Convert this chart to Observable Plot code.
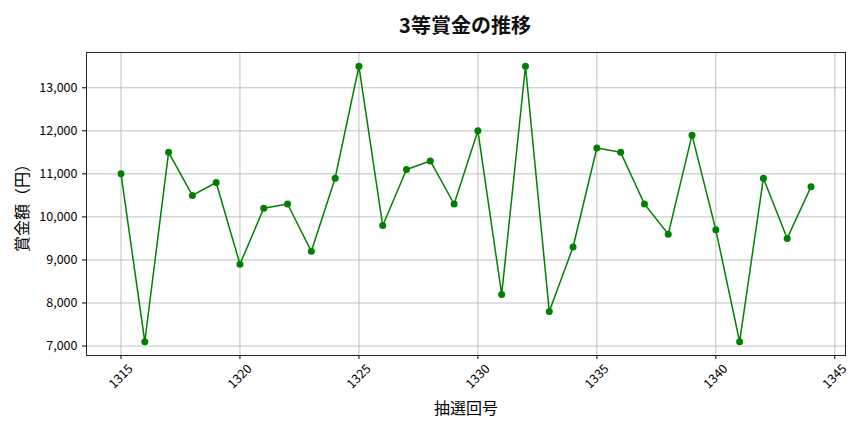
<!DOCTYPE html>
<html>
<head>
<meta charset="utf-8">
<script src="https://cdn.jsdelivr.net/npm/d3@7"></script>
<script src="https://cdn.jsdelivr.net/npm/@observablehq/plot@0.6"></script>
<style>
  body { margin: 0; background: #fff; font-family: "Noto Sans CJK JP", "Noto Sans", sans-serif; }
  #wrap { width: 864px; height: 432px; position: relative; }
  #title { height: 44px; line-height: 50px; text-align: center; font-size: 20px; font-weight: bold; color: #111; padding-left: 66px; }
</style>
</head>
<body>
<div id="wrap">
  <div id="title">3等賞金の推移</div>
  <div id="chart"></div>
</div>
<script>
const draws = [1315,1316,1317,1318,1319,1320,1321,1322,1323,1324,1325,1326,1327,1328,1329,1330,1331,1332,1333,1334,1335,1336,1337,1338,1339,1340,1341,1342,1343,1344];
const prizes = [11000,7100,11500,10500,10800,8900,10200,10300,9200,10900,13500,9800,11100,11300,10300,12000,8200,13500,7800,9300,11600,11500,10300,9600,11900,9700,7100,10900,9500,10700];
const xTicks = [1315,1320,1325,1330,1335,1340,1345];
const yTicks = [7000,8000,9000,10000,11000,12000,13000];
const xLabel = "抽選回号";
const yLabel = "賞金額（円）";

const data = draws.map((d, i) => ({draw: d, prize: prizes[i]}));
const fmt = d3.format(",");

const chart = Plot.plot({
  width: 864,
  height: 388,
  marginTop: 8,
  marginBottom: 77,
  marginLeft: 86,
  marginRight: 19,
  style: {fontFamily: "'Noto Sans CJK JP', 'Noto Sans', sans-serif", fontSize: "12px", color: "#000", background: "#fff"},
  x: {domain: [1313.55, 1345.45], label: null},
  y: {domain: [6780, 13820], label: null},
  marks: [
    Plot.gridX(xTicks, {stroke: "#b0b0b0", strokeOpacity: 1, strokeWidth: 0.8}),
    Plot.gridY(yTicks, {stroke: "#b0b0b0", strokeOpacity: 1, strokeWidth: 0.8}),
    Plot.axisX(xTicks, {tickFormat: () => "", tickSize: 4, label: null}),
    Plot.text(xTicks, {x: d => d, text: d => String(d), frameAnchor: "bottom", dy: 21, rotate: -45, textAnchor: "middle", lineAnchor: "middle", fontSize: 12.5, fill: "#000"}),
    Plot.axisY(yTicks, {tickFormat: fmt, tickSize: 4, label: null, fontSize: 12.5}),
    Plot.frame({stroke: "#222", strokeWidth: 1}),
    Plot.line(data, {x: "draw", y: "prize", stroke: "#008000", strokeWidth: 1.5}),
    Plot.dot(data, {x: "draw", y: "prize", fill: "#008000", r: 3.5}),
    Plot.text([xLabel], {frameAnchor: "bottom", dy: 53, textAnchor: "middle", lineAnchor: "middle", text: d => d, fontSize: 16, fill: "#000"}),
    Plot.text([yLabel], {frameAnchor: "left", dx: -64, rotate: -90, textAnchor: "middle", lineAnchor: "middle", text: d => d, fontSize: 16, fill: "#000"})
  ]
});
document.getElementById("chart").appendChild(chart);
</script>
</body>
</html>
